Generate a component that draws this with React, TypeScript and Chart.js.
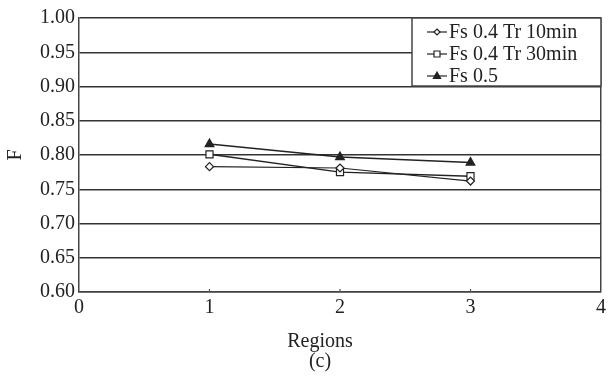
import React, { useEffect, useRef } from "react";
import { Chart, registerables } from "chart.js";

Chart.register(...registerables);

const regions = [1, 2, 3];
const seriesLabels = ["Fs 0.4 Tr 10min", "Fs 0.4 Tr 30min", "Fs 0.5"];
const tr10 = [0.783, 0.781, 0.762];
const tr30 = [0.801, 0.775, 0.769];
const fs05 = [0.816, 0.797, 0.789];
const xTicks = [0, 1, 2, 3, 4];
const yTicks = [0.6, 0.65, 0.7, 0.75, 0.8, 0.85, 0.9, 0.95, 1.0];

const FONT = "'Liberation Serif', 'Times New Roman', serif";
const INK = "#222222";

const styles = [
  { pointStyle: "rectRot", radius: 4, fill: "#ffffff", width: 1.2 },
  { pointStyle: "rect", radius: 5, fill: "#ffffff", width: 1.5 },
  { pointStyle: "triangle", radius: 5, fill: INK, width: 1.5 },
];

function drawMarker(ctx: CanvasRenderingContext2D, style: string, x: number, y: number, r: number, fill: string) {
  ctx.save();
  ctx.fillStyle = fill;
  ctx.strokeStyle = INK;
  ctx.lineWidth = 1.2;
  ctx.beginPath();
  if (style === "rectRot") {
    ctx.moveTo(x, y - r);
    ctx.lineTo(x + r, y);
    ctx.lineTo(x, y + r);
    ctx.lineTo(x - r, y);
    ctx.closePath();
  } else if (style === "rect") {
    ctx.rect(x - r * 0.75, y - r * 0.75, r * 1.5, r * 1.5);
  } else {
    ctx.moveTo(x, y - r);
    ctx.lineTo(x + r * 0.9, y + r * 0.6);
    ctx.lineTo(x - r * 0.9, y + r * 0.6);
    ctx.closePath();
  }
  ctx.fill();
  ctx.stroke();
  ctx.restore();
}

const overlay = {
  id: "overlay",
  afterDraw(chart: any) {
    const ctx: CanvasRenderingContext2D = chart.ctx;
    const { left, right, top, bottom } = chart.chartArea;
    ctx.save();
    // small inward tick marks on the x axis
    const xs = chart.scales.x;
    ctx.strokeStyle = "#555";
    ctx.lineWidth = 1.2;
    xTicks.forEach((v) => {
      if (v === xTicks[0] || v === xTicks[xTicks.length - 1]) return;
      const px = xs.getPixelForValue(v);
      ctx.beginPath();
      ctx.moveTo(px, bottom);
      ctx.lineTo(px, bottom - 3);
      ctx.stroke();
    });

    // axis titles
    ctx.fillStyle = INK;
    ctx.font = `20px ${FONT}`;
    ctx.textAlign = "center";
    ctx.textBaseline = "middle";
    const cx = (left + right) / 2 - 20;
    ctx.fillText("Regions", cx, bottom + 50);
    ctx.fillText("(c)", cx, bottom + 70);
    ctx.save();
    ctx.translate(16, (top + bottom) / 2);
    ctx.rotate(-Math.PI / 2);
    ctx.fillText("F", 0, 0);
    ctx.restore();

    // legend
    const lx = right - 189;
    const ly = top;
    const lw = 189;
    const lh = 68;
    ctx.fillStyle = "#ffffff";
    ctx.fillRect(lx, ly, lw, lh);
    ctx.strokeStyle = "#444";
    ctx.lineWidth = 1.5;
    ctx.strokeRect(lx, ly, lw, lh);
    chart.data.datasets.forEach((ds: any, i: number) => {
      const y = ly + 14 + i * 22;
      ctx.strokeStyle = INK;
      ctx.lineWidth = 1.2;
      ctx.beginPath();
      ctx.moveTo(lx + 15, y);
      ctx.lineTo(lx + 35, y);
      ctx.stroke();
      const st = styles[i];
      drawMarker(ctx, st.pointStyle, lx + 25, y, st.pointStyle === "rectRot" ? 3 : 4, st.fill);
      ctx.fillStyle = INK;
      ctx.font = `20px ${FONT}`;
      ctx.textAlign = "left";
      ctx.textBaseline = "middle";
      ctx.fillText(ds.label, lx + 37, y + 1);
    });
    ctx.restore();
  },
};

export default function App() {
  const ref = useRef<HTMLCanvasElement | null>(null);
  useEffect(() => {
    if (!ref.current) return;
    const seriesData = [tr10, tr30, fs05];
    const chart = new Chart(ref.current, {
      type: "line",
      data: {
        datasets: seriesData.map((vals, i) => ({
          label: seriesLabels[i],
          data: regions.map((r, j) => ({ x: r, y: vals[j] })),
          borderColor: INK,
          borderWidth: styles[i].width,
          pointStyle: styles[i].pointStyle as any,
          pointRadius: styles[i].radius,
          pointBackgroundColor: styles[i].fill,
          pointBorderColor: INK,
          pointBorderWidth: 1.2,
          tension: 0,
          fill: false,
        })),
      },
      options: {
        animation: false,
        responsive: false,
        maintainAspectRatio: false,
        layout: { padding: { left: 0, top: 18, right: 12, bottom: 0 } },
        plugins: { legend: { display: false }, tooltip: { enabled: false } },
        scales: {
          x: {
            type: "linear",
            min: 0,
            max: 4,
            afterBuildTicks: (s: any) => {
              s.ticks = xTicks.map((v) => ({ value: v }));
            },
            afterFit: (s: any) => {
              s.height = 85;
            },
            ticks: {
              color: INK,
              font: { family: FONT, size: 20 },
              padding: 4,
              maxRotation: 0,
            },
            grid: {
              drawTicks: false,
              color: (c: any) => (c.tick && c.tick.value === 4 ? "#444" : "rgba(0,0,0,0)"),
              lineWidth: 1.5,
            },
            border: { color: "#444", width: 1.5 },
          },
          y: {
            type: "linear",
            min: 0.6,
            max: 1.0,
            afterBuildTicks: (s: any) => {
              s.ticks = yTicks.map((v) => ({ value: v }));
            },
            afterFit: (s: any) => {
              s.width = 79;
            },
            ticks: {
              color: INK,
              font: { family: FONT, size: 20 },
              padding: 4,
              callback: (v: any) => Number(v).toFixed(2),
            },
            grid: {
              drawTicks: false,
              color: "#333",
              lineWidth: 1.5,
            },
            border: { color: "#444", width: 1.5 },
          },
        },
      },
      plugins: [overlay],
    });
    return () => chart.destroy();
  }, []);
  return (
    <div style={{ position: "absolute", left: 0, top: 0, width: 613, height: 377, background: "#fff" }}>
      <canvas ref={ref} width={613} height={377} style={{ width: 613, height: 377 }} />
    </div>
  );
}
